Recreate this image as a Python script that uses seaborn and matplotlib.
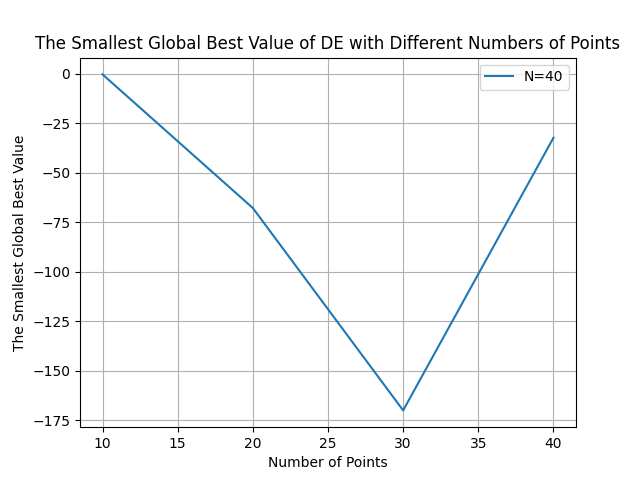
import matplotlib
matplotlib.use("Agg")
import matplotlib.pyplot as plt
import seaborn as sns
import pandas as pd

points = [10, 20, 30, 40]
best_values = [-0.3, -67.8, -170.0, -32.3]
series_label = "N=40"

df = pd.DataFrame({"points": points, "best": best_values})

fig, ax = plt.subplots(figsize=(6.4, 4.8), dpi=100)
sns.lineplot(data=df, x="points", y="best", ax=ax, label=series_label, color="#1f77b4")
ax.grid(True)
ax.set_title("The Smallest Global Best Value of DE with Different Numbers of Points")
ax.set_xlabel("Number of Points")
ax.set_ylabel("The Smallest Global Best Value")
ax.legend(loc="upper right")
fig.savefig("out.png", dpi=100)
